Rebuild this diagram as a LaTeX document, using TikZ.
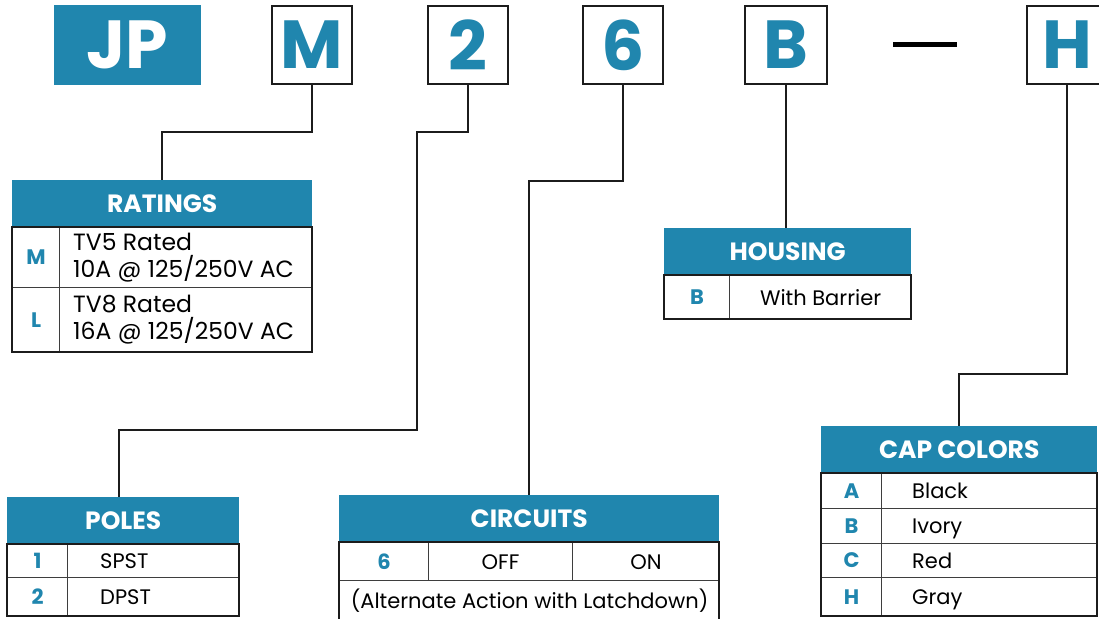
\documentclass[tikz,border=0pt]{standalone}
\usepackage{fontspec}
\setmainfont{Poppins}
\usetikzlibrary{positioning}
\definecolor{pnBlue}{RGB}{32,134,174}
\definecolor{pnLine}{RGB}{28,28,28}
\tikzset{pnchart/.style={
  x=1pt, y=-1pt,
  codebox/.style={draw=pnLine, line width=1.6pt, minimum width=80pt, minimum height=78pt, inner sep=0pt, text=pnBlue, font=\fontsize{68}{68}\selectfont\bfseries},
  head/.style={fill=pnBlue, draw=none, inner sep=0pt, anchor=north west, minimum height=47pt, text=white, font=\fontsize{25}{25}\selectfont\bfseries},
  cell/.style={draw=pnLine!85, line width=1.1pt, inner sep=0pt, anchor=north west},
  code/.style={text=pnBlue, font=\fontsize{21}{21}\selectfont\bfseries},
  body/.style={inner sep=0pt, font=\fontsize{21}{27}\selectfont, text height=15.5pt, text depth=0pt},
  rating/.style={inner sep=0pt, font=\fontsize{23.5}{27}\selectfont},
  frame/.style={draw=pnLine, line width=1.6pt},
  link/.style={draw=pnLine, line width=1.6pt},
}}

\begin{document}
\begin{tikzpicture}[pnchart]
\useasboundingbox (0,0) rectangle (1099,618);

% ---------------------------------------------------------------
% part number boxes
% ---------------------------------------------------------------
\node[fill=pnBlue, minimum width=147pt, minimum height=80pt, inner sep=0pt, text=white, font=\fontsize{68}{68}\selectfont\bfseries] (bJP) at (127.5,45) {JP};
\node[codebox] (bM) at (312,45) {M};
\node[codebox] (b2) at (468,45) {2};
\node[codebox] (b6) at (623,45) {6};
\node[codebox, minimum width=82pt] (bB) at (786,45) {B};
\draw[line width=5pt] (893,45) -- (957,45);
\node[codebox] (bH) at (1067,45) {H};

% ---------------------------------------------------------------
% RATINGS
% ---------------------------------------------------------------
\node[head, minimum width=300pt] (hRatings) at (12,180) {RATINGS};
\node[cell, code, minimum width=47pt, minimum height=60pt] (rM1) at (12,227) {M};
\node[cell, minimum width=253pt, minimum height=60pt] (rM2) at (59,227) {};
\node[rating, anchor=west, align=left] at ([xshift=14pt]rM2.west) {TV5 Rated\\10A @ 125/250V AC};
\node[cell, code, minimum width=47pt, minimum height=65pt] (rL1) at (12,287) {L};
\node[cell, minimum width=253pt, minimum height=65pt] (rL2) at (59,287) {};
\node[rating, anchor=west, align=left] at ([xshift=14pt]rL2.west) {TV8 Rated\\16A @ 125/250V AC};
\draw[frame] (12,227) rectangle (312,352);

% ---------------------------------------------------------------
% HOUSING
% ---------------------------------------------------------------
\node[head, minimum width=247pt] (hHousing) at (664,228) {HOUSING};
\node[cell, code, minimum width=65pt, minimum height=44pt] (hB1) at (664,275) {B};
\node[cell, body, minimum width=182pt, minimum height=44pt] (hB2) at (729,275) {With Barrier};
\draw[frame] (664,275) rectangle (911,319);

% ---------------------------------------------------------------
% POLES
% ---------------------------------------------------------------
\node[head, minimum width=232pt] (hPoles) at (7,497) {POLES};
\node[cell, code, minimum width=60pt, minimum height=33pt] (p11) at (7,544) {1};
\node[cell, minimum width=172pt, minimum height=33pt] (p12) at (67,544) {};
\node[body, anchor=west] at ([xshift=33pt]p12.west) {SPST};
\node[cell, code, minimum width=60pt, minimum height=39pt] (p21) at (7,577) {2};
\node[cell, minimum width=172pt, minimum height=39pt] (p22) at (67,577) {};
\node[body, anchor=west] at ([xshift=33pt]p22.west) {DPST};
\draw[frame] (7,544) rectangle (239,616);

% ---------------------------------------------------------------
% CIRCUITS
% ---------------------------------------------------------------
\node[head, minimum width=380pt] (hCircuits) at (339,495) {CIRCUITS};
\node[cell, code, minimum width=89pt, minimum height=38pt] (c61) at (339,542) {6};
\node[cell, body, minimum width=144pt, minimum height=38pt] (c62) at (428,542) {OFF};
\node[cell, body, minimum width=147pt, minimum height=38pt] (c63) at (572,542) {ON};
\node[cell, body, minimum width=380pt, minimum height=40pt] (c7) at (339,580) {(Alternate Action with Latchdown)};
\draw[frame] (339,542) rectangle (719,620);

% ---------------------------------------------------------------
% CAP COLORS
% ---------------------------------------------------------------
\node[head, minimum width=276pt] (hCaps) at (821,426) {CAP COLORS};
\foreach \k/\txt/\y/\h in {A/Black/473/35, B/Ivory/508/35, C/Red/543/34, H/Gray/577/39}{
  \node[cell, code, minimum width=60pt, minimum height=\h pt] (k\k1) at (821,\y) {\k};
  \node[cell, minimum width=216pt, minimum height=\h pt] (k\k2) at (881,\y) {};
  \node[body, anchor=west] at ([xshift=31pt]k\k2.west) {\txt};
}
\draw[frame] (821,473) rectangle (1097,616);

% ---------------------------------------------------------------
% connectors
% ---------------------------------------------------------------
\coordinate (k2a) at (417,132);
\coordinate (k2b) at (119,430);
\draw[link] (bM.south) -- ++(0,47) -| (hRatings.north);
\draw[link] (b2.south) |- (k2a) |- (k2b) -- (k2b |- hPoles.north);
\draw[link] (b6.south) -- ++(0,96) -| (hCircuits.north);
\draw[link] (bB.south) -- (bB.south |- hHousing.north);
\draw[link] (bH.south) -- ++(0,289) -| (hCaps.north);

\end{tikzpicture}
\end{document}
